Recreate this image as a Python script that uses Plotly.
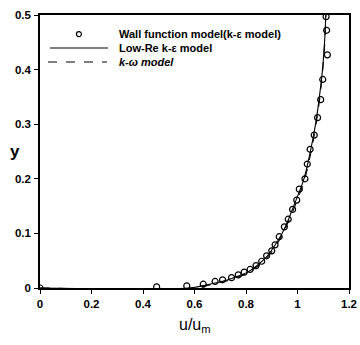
import plotly.graph_objects as go

# Wall function model (k-epsilon) markers
wf_u = [0.0, 0.453, 0.57, 0.634, 0.68, 0.709, 0.744, 0.77, 0.793, 0.816, 0.839, 0.861,
        0.88, 0.9, 0.913, 0.929, 0.949, 0.964, 0.981, 0.997, 1.007, 1.029, 1.038,
        1.049, 1.065, 1.078, 1.09, 1.098, 1.116, 1.113, 1.111]
wf_y = [0.0, 0.002, 0.004, 0.007, 0.012, 0.015, 0.019, 0.024, 0.029, 0.034, 0.041, 0.049,
        0.059, 0.068, 0.079, 0.094, 0.112, 0.126, 0.144, 0.161, 0.181, 0.2, 0.227,
        0.254, 0.28, 0.312, 0.345, 0.382, 0.427, 0.472, 0.497]

# Low-Re k-epsilon model (solid)
lr_y = [0.0, 0.0, 0.005, 0.01, 0.015, 0.02, 0.03, 0.04, 0.05, 0.06, 0.08, 0.1, 0.12,
        0.15, 0.2, 0.25, 0.3, 0.35, 0.4, 0.45, 0.5]
lr_u = [0.0, 0.58, 0.64, 0.69, 0.73, 0.76, 0.81, 0.84, 0.865, 0.885, 0.915, 0.94, 0.96,
        0.985, 1.025, 1.05, 1.07, 1.085, 1.097, 1.105, 1.11]

# k-omega model (dashed)
kw_y = [0.0, 0.0, 0.005, 0.01, 0.015, 0.02, 0.03, 0.04, 0.05, 0.06, 0.08, 0.1, 0.12,
        0.15, 0.2, 0.25, 0.3, 0.35, 0.4, 0.45, 0.5]
kw_u = [0.0, 0.6, 0.655, 0.70, 0.74, 0.77, 0.815, 0.845, 0.87, 0.89, 0.92, 0.943, 0.963,
        0.99, 1.028, 1.053, 1.072, 1.087, 1.098, 1.106, 1.11]

legend_labels = ["<b>Wall function model(k-ε model)</b>",
                 "<b>Low-Re k-ε model</b>",
                 "<b><i>k-ω model</i></b>"]

x_ticks = [0, 0.2, 0.4, 0.6, 0.8, 1, 1.2]
x_labels = ["0", "0.2", "0.4", "0.6", "0.8", "1", "1.2"]
y_ticks = [0, 0.1, 0.2, 0.3, 0.4, 0.5]
y_labels = ["0", "0.1", "0.2", "0.3", "0.4", "0.5"]

fig = go.Figure()
fig.add_trace(go.Scatter(x=wf_u, y=wf_y, mode="markers", showlegend=False,
                         marker=dict(symbol="circle-open", size=6, color="black",
                                     line=dict(width=1.2, color="black"))))
fig.add_trace(go.Scatter(x=lr_u, y=lr_y, mode="lines", showlegend=False,
                         line=dict(color="black", width=1.1, shape="spline")))
fig.add_trace(go.Scatter(x=kw_u, y=kw_y, mode="lines", showlegend=False,
                         line=dict(color="black", width=1.1, dash="dash", shape="spline")))

axis_common = dict(showline=True, linecolor="black", linewidth=1.5, mirror=True,
                   ticks="outside", ticklen=4, tickcolor="black", showgrid=False,
                   zeroline=False, automargin=False,
                   tickfont=dict(family="Liberation Sans", size=11.5, color="black"))

fig.update_layout(
    width=360, height=345,
    margin=dict(l=40, r=11, t=15, b=57),
    plot_bgcolor="white", paper_bgcolor="white",
    font=dict(family="Liberation Sans", color="black"),
    showlegend=False,
)
fig.update_xaxes(range=[0, 1.2], tickvals=x_ticks, ticktext=["<b>%s</b>" % t for t in x_labels],
                 **axis_common)
fig.update_yaxes(range=[0, 0.5], tickvals=y_ticks, ticktext=["<b>%s</b>" % t for t in y_labels],
                 ticklabelstandoff=1, **axis_common)

# axis titles
fig.add_annotation(text="u/u<sub>m</sub>", xref="paper", yref="paper", x=0.5, y=-0.095,
                   xanchor="center", yanchor="top", showarrow=False,
                   font=dict(size=16, family="Liberation Sans", color="black"))
fig.add_annotation(text="<b>y</b>", xref="paper", yref="paper", x=-0.08, y=0.5,
                   xanchor="center", yanchor="middle", showarrow=False,
                   font=dict(size=17, family="Liberation Sans", color="black"))

# manual legend (compact)
rows_y = [0.930, 0.879, 0.828]
for ry, lab in zip(rows_y, legend_labels):
    fig.add_annotation(text=lab, xref="paper", yref="paper", x=0.249, y=ry,
                       xanchor="left", yanchor="middle", showarrow=False,
                       font=dict(size=11, family="Liberation Sans", color="black"))
fig.add_shape(type="circle", xref="paper", yref="paper", xsizemode="pixel", ysizemode="pixel",
              xanchor=0.126, yanchor=rows_y[0], x0=-2.5, x1=2.5, y0=-2.5, y1=2.5,
              line=dict(color="black", width=1.2))
fig.add_shape(type="line", xref="paper", yref="paper", x0=0.032, x1=0.220,
              y0=rows_y[1], y1=rows_y[1], line=dict(color="black", width=1.1))
fig.add_shape(type="line", xref="paper", yref="paper", x0=0.026, x1=0.217,
              y0=rows_y[2], y1=rows_y[2], line=dict(color="black", width=1.1, dash="dash"))

fig.write_html("out.html", config={"displayModeBar": False},
               post_script="document.body.style.margin='0';document.body.style.overflow='hidden';")
